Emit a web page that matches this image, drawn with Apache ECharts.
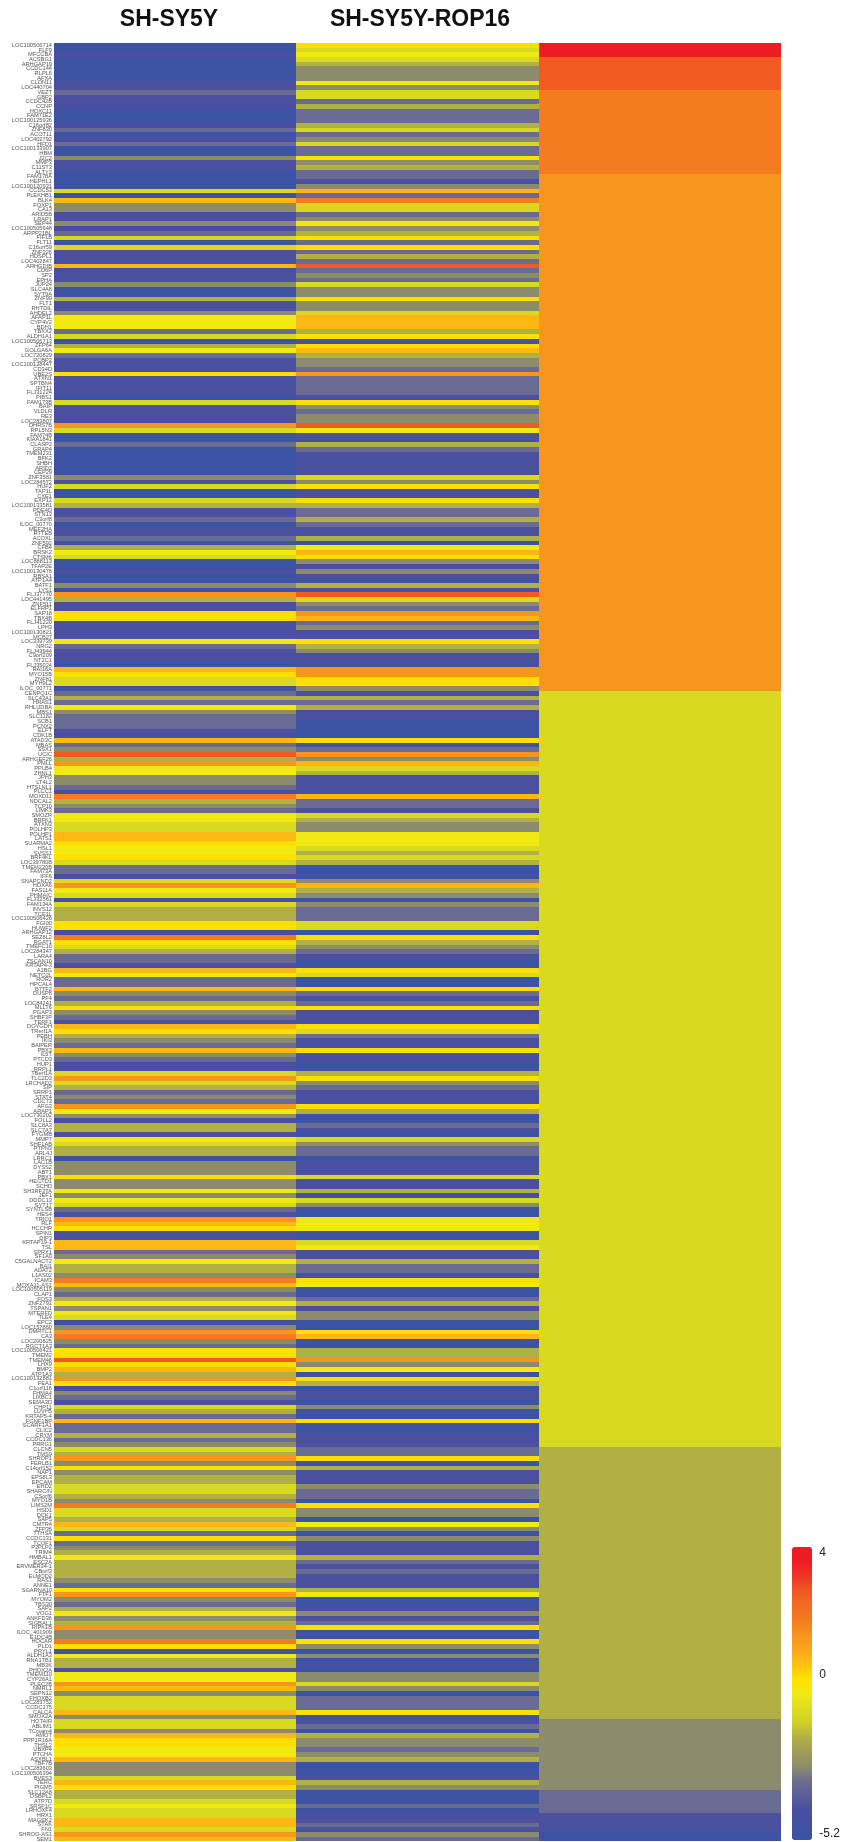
<!DOCTYPE html>
<html>
<head>
<meta charset="utf-8">
<title>SH-SY5Y heatmap</title>
<script src="https://cdn.jsdelivr.net/npm/echarts@6/dist/echarts.min.js"></script>
<style>
  html, body { margin: 0; padding: 0; background: #fff; }
  #chart { width: 843px; height: 1842px; filter: blur(0.45px); }
</style>
</head>
<body>
<div id="chart"></div>
<script>
const columns = ['SH-SY5Y', 'SH-SY5Y-ROP16', 'Cluster'];

const genes = [
  'LOC100506714','FLF9','MFCCBA','ACSBG1','ARHGAP19','CCDC144','RLPL6','AFXA','CLDN11','LOC440704',
  'VEZT','GBP2','CCDC42B','CCNP','HOXC11','FAM71E2','LOC100125936','C16orf82','ZNF830','ACOT11',
  'LOC402792','HFD1','LOC100133907','HBM','J2C2','MMP3','C11ST3','ALTY2','FAM178A','HEPHL1',
  'LOC100120931','CCDC53','PLEKHB1','BLK4','FOXP1','CA13','ARID5B','LRAP1','SEP44','LOC100505648',
  'ARPP21BL','FIF1B','FLT11','C16orf59','ZNF326','HDSPL1','LOC402847','ARHGDIB','CD6P','SP2',
  'EPHA','JUP24','SLC4A8','SYT9A','ZNF99','FLT1','RHTDIL','AHDEL2','AFAP1L','CYP4V2',
  'BDH1','TBXX2','ALDH1A1','LOC100506713','ZFP64','GOLGA6A','LOC720829','PCBP2','LOC100128447','CD34D',
  'UBE2S','ATXN1','SPTBN4','IFIT11','FLJ31224','PIBS1','FAM173B','BAIP','VLDLR','RE3',
  'LOC283807','DHRS7B','RPL5N3','FAM74B','KIAA1841','CLASP2','GRAP4','TMEM231','BFK2','SHBH',
  'ARID2','CEP29','ZNF3581','LOC284572','HUF2','TAP1L','CXE1','EXP12','LOC100133581','PDE4D',
  'STN13','C3orf8','ILOC_00770','MEF2HA','RTTEB','ACOXL','ZNF592','CFB4','BRSK2','CTSM6',
  'LOC888113','TFAP2E','LOC100130476','RBSA1','ATP1A4','BATF1','LYS1','FLJ37770','LOC441495','ZNF511',
  'ELFRP1','SAP18','TBX4B','FLJ41220','LPH3','LOC100130821','MCB27','LOC339739','NRG2','FLJ43944',
  'C9orf209','NT2C1','FLJ35024','RAI16A','MYO15B','ZNF81','MYH9L2','ILOC_00771','CENPQ1C','SLC43A1',
  'HRAS1','RHLUDBA','MBS1','SLC1182','SCB1','PCNX2','ELFT','CDK1B','ATAD3C','MBAS',
  'SSX1','UCIC','ARHGEF26','PMLL','PPLB4','ZHNL1','JPH3','LT4L2','HTSLNL1','PLCC1',
  'MOXD11','NDCAL2','TCP10','LIMK3','SMOZR','BRFK1','ATXN3','POLHP3','POLHP1','LATS1',
  'SUARMA2','HSL1','SVSS1','BRF4KL','LOC39780B','TMEM220B','FAM73A','IFF6','SNAPCND2','HOXA6',
  'FAS11A','PHMAIC','FLJ32561','FAM134A','INVS12','TCE1L','LOC100506426','FGI00','HUWF2','ARHGAP12',
  'SEZ6L2','RGAT1','TMEFC10','LOC284347','LARA4','ZSCAN10','KRTAP4-3','A1BG','NETO2L','ROR2',
  'HPCAL4','B7TF2','DUSP8','PF4','LOC84241','MLLT6','PGAP3','SHBF3P','TERF1','DOYGDH',
  'TRerf1A','PEBH','IKI3','BAIPER','PBX3','IL6T','PTCD3','HUP1','RRPL1','TBerf1A',
  'TLC2D3','LRCHAD2','SIP','SRRP1','STAT4','CDC73','AFG3','ARAP1','LOC730202','FOLL2',
  'SLC8A3','SLC7A7','FYGMB','MMP7','SHF1AB','PTPN3','ARL4J','LRRC1','LAC1B','DYSS2',
  'ABT1','PBX1','HECTD1','SCHD','SH3RF3TA','JEF1','DDDC13','SYT17','SYNTLSB','HES4',
  'TRIO1','RLF','HCCHR','SPIN1','DIP3','KRTAP19-1','TSL','SPRX1','SF1A0','C5GALNACT2',
  'BAI1','ADAT2','L1AS02','ICAM3','MOXA11-AS1','LOC100505119','CLAP1','FOS3','ZNF2791','TSPAN1',
  'MTERFD','TLE4','EPC2','LOC157860','DMRTC1','CA3','LOC200825','RGCT1A3','LOC100506421','TMEM2',
  'TMEM46','LHX9','BMP2','ATP1A3','LOC100132881','FEA1','C1orf116','FHMA4','LIXBC1','SEMA3D',
  'CHP11','LUVH5','KRTAP5-4','FGNF1BP','SCARF1A1','CLIC2','CRYM','CCDC136','PRRG1','CLCN5',
  'TMS9','SHROP1','FERLB1','C14orf152','NAP1','EPS8L3','EPCAM','EHD2','SHARCIN','CSorf6',
  'MYO1B','LIMS2M','HSD1','DCK1','SAP5','CMTR4','ZFP36','TTHSA','CCDC131','TCOF1',
  'P2PLP2','TRIM4','HMBAL1','ESC2A','ERVMER34-1','CBorf3','ELMOD2','RAS1','ANNE1','SGARNA10',
  'FTF1','MYOM2','TBS30','SAP2','VOG1','ANKFD36','SIGBAL1','RIPK1B','ILOC_401909','E1DC4B',
  'HOCAR','PLD1','PRYL1','ALDH1A3','RNA1TB1','MB3K','PHOX2A','TMEM110','CYP26A1','PLEC2B',
  'NMRL1','SEPN12','FHOXB2','LOC283752','CCDC175','CALCA','SMOX2A','HOTAIR','ABLIM1','TCrsam4',
  'AMOT','PPP1R16A','THSL2','UBXP4','PTCHA','ASXBL1','TBF7B','LOC283603','LOC100506394','BVES3',
  'TERC','PIGM5','SLC12A8','OSBPL2','ATP7D','SRSF1C','LRHOXF4','HRX1','MAGEK2','STAK',
  'FN1','SHROO-AS1','SEM1'
];

const shSy5y = [
  -5,-5,-4.3,-5,-5,-5,-5,-5,-4.3,-4.3,
  -3.4,-4.3,-4.3,-4.3,-5,-5,-5,-4.3,-3.4,-5,
  -4.3,-3.4,-5,-5,-2.9,-4.3,-4.3,-5,-5,-5,
  -5,-1.2,-5,.5,-2.9,-2.9,-4.3,-4.3,-2.9,-4.3,
  -3.4,-1.2,-5,-1.2,-4.3,-4.3,-4.3,.5,-4.3,-4.3,
  -4.3,-2.9,-5,-5,-2,-4.3,-4.3,-2.9,-.6,-.6,
  -.6,-3.4,-1.2,-5,-2,-.6,-3.4,-4.3,-4.3,-4.3,
  -.1,-4.3,-4.3,-4.3,-4.3,-5,-1.2,-4.3,-4.3,-4.3,
  -4.3,1.2,-1.2,-5,-5,-3.4,-5,-5,-5,-5,
  -5,-5,-2.9,-4.3,-1.2,-5,-5,-1.2,-2,-4.3,
  -4.3,-3.4,-5,-4.3,-4.3,-3.4,-5,-2,-.6,-1.2,
  -5,-5,-4.3,-5,-5,-2.9,-5,1.2,-2,-4.3,
  -4.3,-.1,-.1,-4.3,-4.3,-4.3,-4.3,-.6,-3.4,-4.3,
  -4.3,-4.3,-5,.5,-.1,-1.2,-1.2,-5,-3.4,-2,
  -3.4,-.6,-2.9,-3.4,-3.4,-3.4,-4.3,-4.3,.5,-3.4,
  -2.9,2.6,-2,1.2,-.6,-.6,-2.9,-2.9,-3.4,-4.3,
  1.7,-2,-2.9,-3.4,-.6,-.6,-1.2,-1.2,.5,.5,
  -.1,-.6,-.6,-.1,-1.2,-3.4,-3.4,-4.3,-1.2,1.2,
  -.6,-1.2,-4.3,-1.2,-2,-2,-2,-.1,-.1,-4.3,
  1.7,-.1,-1.2,-2,-3.4,-3.4,-4.3,.5,-.6,-3.4,
  -3.4,.5,-2.9,-3.4,-2,-.1,-2.9,-3.4,-4.3,.5,
  -.1,-2,-2.9,-3.4,.5,-2.9,-3.4,-4.3,-4.3,-1.2,
  1.2,-1.2,-2,-3.4,-2.9,-3.4,1.2,-.6,-2.9,-4.3,
  -2,-2,-4.3,-.6,-1.2,-2,-2,-5,-2.9,-2.9,
  -2.9,-.1,-2.9,-2.9,-.6,-2.9,-.6,-1.2,-3.4,-4.3,
  1.2,.5,-.1,-4.3,-4.3,.5,.5,-3.4,-2.9,-.6,
  -2,-2,-2.9,1.7,.5,-2.9,-3.4,-2,-.6,-2.9,
  -.6,-1.2,-5,-2.9,1.2,1.7,-2.9,-3.4,-.1,-.1,
  2.6,-.1,.5,-2,1.2,-.1,-4.3,-2.9,-3.4,-4.3,
  -1.2,-2,-3.4,.5,-3.4,-3.4,-2,-3.4,-2.9,-1.2,
  -2,1.2,-2.9,-.1,-2.9,-2,-2,-1.2,-1.2,-2,
  -2.9,1.7,-1.2,-1.2,-2,.5,-1.2,-3.4,-.1,-3.4,
  -2.9,-2,-.6,-2,-2,-2,-2,-2.9,-3.4,-.1,
  1.2,-2.9,-3.4,-2,-.6,-2.9,-2,1.2,-2.9,-2.9,
  1.7,-.1,-4.3,-.6,-2,-2,-4.3,-.6,-.6,1.2,
  .5,-2.9,-1.2,-1.2,-1.2,.5,-2.9,-1.2,-1.2,-2.9,
  .5,-.1,-.1,-.6,-.6,.5,-2.9,-2.9,-2.9,-1.2,
  .5,-.1,-2,-2,-1.2,-.6,-1.2,-1.2,.5,.5,
  -1.2,1.2,.5
];

const shSy5yRop16 = [
  -.1,-1.2,-.6,-1.2,-2,-2.9,-2.9,-2.9,-.6,-2.9,
  -1.2,-1.2,-3.4,-2,-3.4,-3.4,-3.4,-2,-1.2,-3.4,
  -2.9,-1.2,-3.4,-3.4,-.1,-2.9,-2,-3.4,-3.4,-4.3,
  -2.9,.5,-3.4,1.7,-1.2,-1.2,-3.4,-2.9,-.6,-2.9,
  -2,-.1,-3.4,-.1,-3.4,-2,-3.4,2.6,-3.4,-2.9,
  -3.4,-1.2,-2.9,-2.9,-.1,-2.9,-2.9,-1.2,.5,.5,
  .5,-2,-.1,-4.3,-.1,.5,-2,-2.9,-2.9,-3.4,
  1.2,-3.4,-3.4,-3.4,-3.4,-4.3,-.1,-2.9,-3.4,-2.9,
  -2.9,2.6,-.6,-4.3,-4.3,-2,-3.4,-4.3,-4.3,-4.3,
  -4.3,-4.3,-1.2,-2.9,-.1,-4.3,-4.3,-.1,-2,-3.4,
  -3.4,-2,-3.4,-4.3,-4.3,-2,-5,-.6,.5,-.1,
  -2.9,-4.3,-2.9,-4.3,-5,-2,-4.3,2.6,-1.2,-2.9,
  -3.4,1.2,.5,-3.4,-2.9,-4.3,-4.3,-.1,-2,-2.9,
  -4.3,-4.3,-4.3,1.2,1.2,-.1,-.1,-2.9,-4.3,-2,
  -3.4,-2,-4.3,-4.3,-5,-5,-5,-5,-.1,-5,
  -3.4,1.2,-2.9,.5,-1.2,-2,-4.3,-4.3,-4.3,-4.3,
  .5,-3.4,-3.4,-4.3,-1.2,-2,-2.9,-2.9,-.6,-.6,
  -.6,-1.2,-2,-1.2,-2,-5,-5,-5,-2.9,.5,
  -2,-2.9,-5,-2.9,-3.4,-3.4,-3.4,-1.2,-1.2,-5,
  -.1,-2,-2.9,-3.4,-4.3,-5,-5,-.1,-1.2,-5,
  -5,-.1,-3.4,-4.3,-3.4,-.1,-4.3,-4.3,-4.3,-.1,
  -1.2,-3.4,-4.3,-4.3,-.1,-4.3,-4.3,-5,-5,-2,
  -.1,-2.9,-3.4,-4.3,-4.3,-4.3,-.1,-2,-5,-5,
  -3.4,-4.3,-5,-1.2,-2.9,-3.4,-3.4,-5,-4.3,-4.3,
  -4.3,-1.2,-4.3,-4.3,-2,-4.3,-1.2,-2.9,-5,-5,
  -.6,-.6,-.6,-5,-5,-1.2,-.6,-4.3,-4.3,-2,
  -3.4,-3.4,-4.3,-.1,-.6,-5,-5,-3.4,-2,-4.3,
  -2.9,-2.9,-5,-5,-.1,.5,-5,-5,-2,-2,
  1.2,-2.9,-.6,-5,-.1,-2,-5,-4.3,-4.3,-5,
  -2.9,-5,-5,-.1,-5,-5,-4.3,-4.3,-4.3,-3.4,
  -3.4,-.1,-5,-2,-4.3,-4.3,-4.3,-2.9,-3.4,-3.4,
  -5,-.1,-2.9,-2.9,-5,-.6,-2.9,-5,-2.9,-4.3,
  -4.3,-4.3,-2,-3.4,-4.3,-3.4,-4.3,-4.3,-4.3,-2,
  -.6,-5,-5,-4.3,-2.9,-4.3,-3.4,-.1,-5,-5,
  -.1,-2.9,-5,-2.9,-5,-4.3,-5,-2.9,-2.9,-1.2,
  -2.9,-5,-3.4,-3.4,-3.4,-.1,-5,-4.3,-3.4,-5,
  -2,-2.9,-2.9,-3.4,-2.9,-2,-5,-5,-5,-4.3,
  -2,-2.9,-5,-5,-5,-3.4,-5,-4.3,-4.3,-3.4,
  -4.3,-2.9,-3.4
];

// third column is one block per cluster
const clusterValues = [3.8, 2.6, 1.7, 1.2, -1.2, -2, -2.9, -3.4, -4.3, -5];
const clusterRows = [3, 7, 18, 110, 161, 58, 15, 5, 4, 2];

const scaleMin = -5.2;
const scaleMax = 4;
const scaleTicks = [-5.2, 0, 4];

const colorStops = [
  '#3953A4', '#4150A2', '#4A4FA0', '#5A5C9A', '#6C6C92', '#8C8C6C', '#9E9D57',
  '#B2B144', '#CFCF2A', '#DEDE1E', '#F2E913', '#FFE200', '#FDC20F', '#FAA61A',
  '#F7941D', '#F47B20', '#F26A21', '#F15A22', '#EE3424', '#ED1C24', '#ED1C24'
];

const cells = [];
genes.forEach((g, i) => {
  cells.push([0, i, shSy5y[i]]);
  cells.push([1, i, shSy5yRop16[i]]);
});
let row = 0;
clusterValues.forEach((v, c) => {
  for (let k = 0; k < clusterRows[c]; k++) {
    cells.push([2, row, v]);
    row++;
  }
});

// snap each cell to whole pixels so neighbours leave no seam
function renderCell(params, api) {
  const p = api.coord([api.value(0), api.value(1)]);
  const s = api.size([1, 1]);
  const x0 = Math.round(p[0] - s[0] / 2);
  const x1 = Math.round(p[0] + s[0] / 2);
  const y0 = Math.round(p[1] - s[1] / 2);
  const y1 = Math.round(p[1] + s[1] / 2);
  return {
    type: 'rect',
    shape: { x: x0, y: y0, width: x1 - x0, height: y1 - y0 },
    style: { fill: api.visual('color') }
  };
}

const fontFamily = '"Liberation Sans", Arial, sans-serif';
const chart = echarts.init(document.getElementById('chart'), null, { renderer: 'canvas' });

chart.setOption({
  animation: false,
  backgroundColor: '#ffffff',
  title: [
    { text: columns[0], left: 169, top: 8, padding: 0, textAlign: 'center',
      textStyle: { fontFamily, fontSize: 23, fontWeight: 'bold', color: '#111' } },
    { text: columns[1], left: 420, top: 8, padding: 0, textAlign: 'center',
      textStyle: { fontFamily, fontSize: 23, fontWeight: 'bold', color: '#111' } }
  ],
  grid: [
    { left: 54, top: 43, width: 727, height: 1798.5 },
    { left: 792, top: 1547, width: 20, height: 293 }
  ],
  xAxis: [
    { type: 'category', gridIndex: 0, data: columns, show: false },
    { type: 'category', gridIndex: 1, data: [''], show: false }
  ],
  yAxis: [
    {
      type: 'category', gridIndex: 0, data: genes, inverse: true,
      axisLine: { show: false }, axisTick: { show: false }, splitLine: { show: false },
      axisLabel: { interval: 0, margin: 2, fontFamily, fontSize: 5.7, color: '#555' }
    },
    {
      type: 'value', gridIndex: 1, position: 'right', min: scaleMin, max: scaleMax,
      axisLine: { show: false }, axisTick: { show: false }, splitLine: { show: false },
      axisLabel: {
        customValues: scaleTicks, margin: 8, fontFamily, fontSize: 12, color: '#222',
        verticalAlignMinLabel: 'bottom', verticalAlignMaxLabel: 'top'
      }
    }
  ],
  visualMap: {
    type: 'continuous', min: scaleMin, max: scaleMax, seriesIndex: 0, dimension: 2,
    calculable: false, left: 792, top: 1547, itemWidth: 20, itemHeight: 293, padding: 0,
    itemSymbol: 'rect', borderRadius: 0, borderWidth: 0,
    inRange: { color: colorStops }
  },
  series: [{
    type: 'custom', xAxisIndex: 0, yAxisIndex: 0, data: cells,
    renderItem: renderCell, encode: { x: 0, y: 1 }, progressive: 0, silent: true
  }]
});
</script>
</body>
</html>
